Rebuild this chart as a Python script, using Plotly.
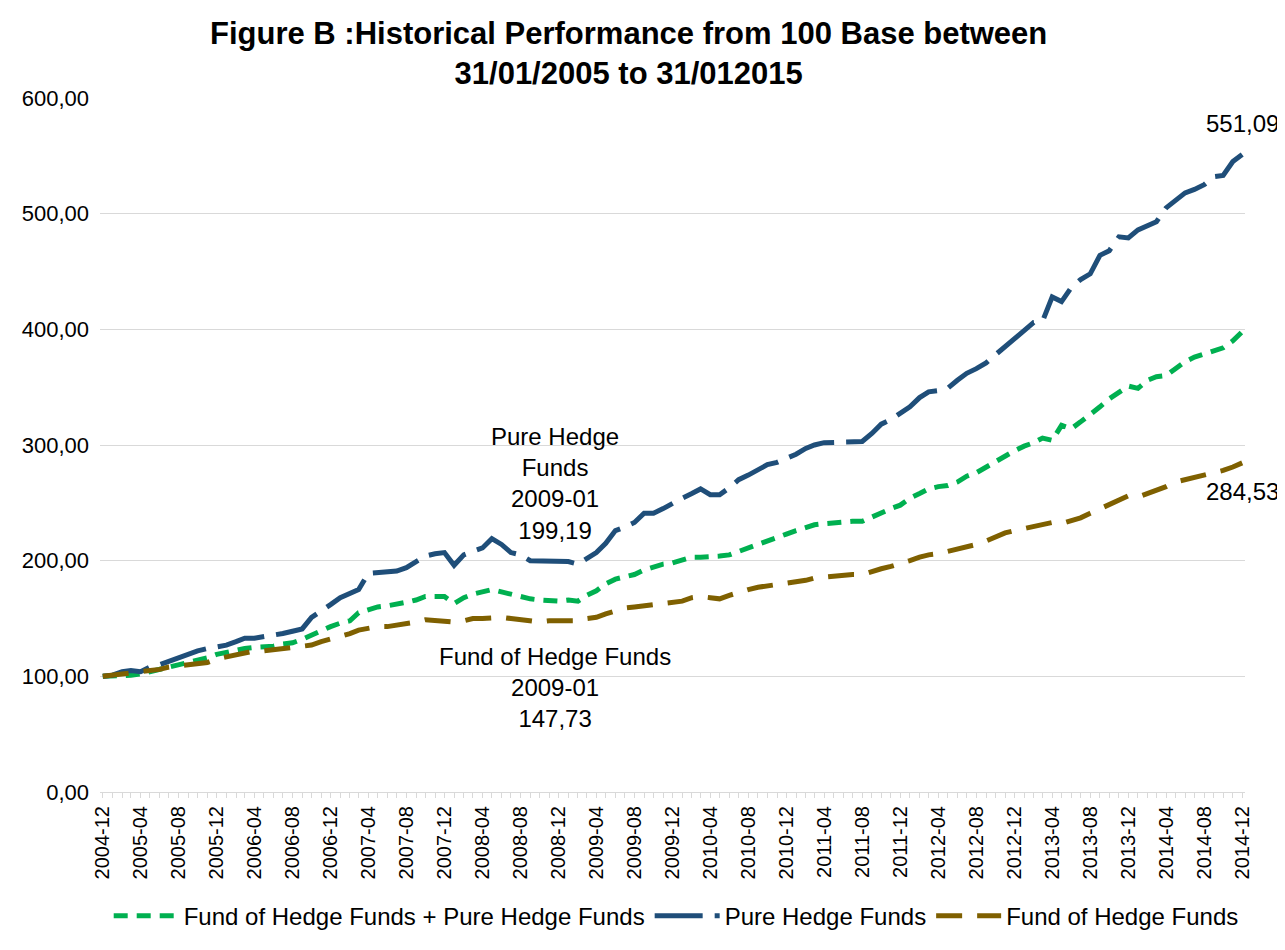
import pandas as pd
import plotly.graph_objects as go

months = pd.date_range("2004-12-01", periods=121, freq="MS")

pure_hedge = [
    100, 101, 104, 105, 104, 108, 110, 113, 115, 119, 122, 124, 125,
    127, 130, 133, 133, 134, 135, 137, 139, 141, 151, 156, 162,
    168, 172, 175, 189, 190, 190, 191, 194, 199, 204, 206, 207,
    196, 205, 208, 211, 219, 214, 207, 205, 200, 200, 200, 200,
    199.19, 197, 202, 207, 215, 226, 229, 233, 241, 241, 245, 250,
    254, 258, 262, 257, 257, 263, 270, 274, 278, 283, 285, 288,
    292, 297, 300, 302, 302, 302, 302, 303, 310, 318, 322, 327,
    333, 341, 346, 347, 349, 356, 362, 366, 371, 378, 385, 393,
    400, 406, 407, 428, 424, 436, 443, 448, 464, 468, 480, 479,
    486, 490, 493, 505, 512, 518, 521, 525, 532, 533, 545, 551.09,
]

combined = [
    100, 100, 101, 101, 102, 104, 105, 108, 110, 112, 114, 116, 119,
    121, 123, 124, 125, 125, 126, 128, 129, 132, 136, 140, 143,
    146, 148, 155, 158, 160, 161, 162, 164, 166, 169, 169, 169,
    163, 168, 171, 173, 175, 173, 171, 169, 167, 166, 165, 165,
    166, 165, 170, 174, 180, 184, 186, 188, 192, 195, 197, 198,
    200, 203, 203, 203, 204, 205, 208, 211, 215, 218, 221, 223,
    226, 229, 231, 232, 233, 233, 234, 234, 238, 242, 245, 248,
    254, 258, 262, 264, 265, 268, 273, 276, 281, 285, 290, 295,
    299, 302, 306, 304, 317, 314, 320, 326, 333, 340, 345, 351,
    349, 356, 359, 360, 366, 372, 376, 379, 382, 384, 390, 398,
]

fund_of_hedge = [
    100, 101, 102, 102, 103, 104, 106, 108, 109, 110, 110, 112, 115,
    117, 119, 120, 122, 122, 123, 124, 124, 125, 127, 130, 132,
    135, 137, 140, 142, 143, 143, 144, 145, 147, 149, 148, 148,
    147, 148, 150, 150, 151, 151, 150, 149, 147, 147, 148, 148,
    147.73, 148, 150, 151, 154, 157, 159, 160, 161, 163, 164, 164,
    165, 168, 169, 168, 167, 170, 173, 175, 177, 178, 180, 181,
    182, 183, 185, 186, 187, 187, 188, 188, 191, 193, 195, 197,
    200, 203, 205, 206, 208, 209, 212, 214, 217, 221, 224, 226,
    228, 230, 232, 233, 232, 234, 237, 241, 245, 249, 253, 256,
    255, 258, 261, 264, 268, 270, 272, 273, 275, 278, 281, 284.53,
]

font = "Liberation Sans, Arial, sans-serif"
label_font = dict(size=24, color="black", family=font)

fig = go.Figure()
fig.add_trace(go.Scatter(x=months, y=combined, mode="lines",
                         name="Fund of Hedge Funds + Pure Hedge Funds",
                         line=dict(color="#00B050", width=5, dash="14px,9px")))
fig.add_trace(go.Scatter(x=months, y=pure_hedge, mode="lines",
                         name="Pure Hedge Funds",
                         line=dict(color="#1F4E79", width=5, dash="48px,12px")))
fig.add_trace(go.Scatter(x=months, y=fund_of_hedge, mode="lines",
                         name="Fund of Hedge Funds",
                         line=dict(color="#7F6000", width=5, dash="26px,15px")))

# data labels
fig.add_annotation(x=months[49], y=pure_hedge[49], text="Pure Hedge<br>Funds<br>2009-01<br>199,19",
                   showarrow=False, xshift=-13, yshift=16, yanchor="bottom", font=label_font)
fig.add_annotation(x=months[49], y=fund_of_hedge[49], text="Fund of Hedge Funds<br>2009-01<br>147,73",
                   showarrow=False, xshift=-13, yshift=-20, yanchor="top", font=label_font)
fig.add_annotation(x=months[120], y=pure_hedge[120], text="551,09",
                   showarrow=False, yshift=16, yanchor="bottom", font=label_font)
fig.add_annotation(x=months[120], y=fund_of_hedge[120], text="284,53",
                   showarrow=False, yshift=-13, yanchor="top", font=label_font)

# outer chart border
fig.add_shape(type="rect", xref="paper", yref="paper",
              x0=-0.081, x1=1.03, y0=-0.25, y1=1.135,
              line=dict(color="#D9D9D9", width=1))

fig.update_layout(
    width=1285, height=950,
    separators=",.",
    paper_bgcolor="white", plot_bgcolor="white",
    margin=dict(l=92, r=48, t=90, b=166),
    font=dict(family=font, color="black", size=20),
    title=dict(text="<b>Figure B :Historical Performance from 100 Base between<br>31/01/2005 to 31/012015</b>",
               x=0.483, xanchor="center", y=0.962, yanchor="top",
               font=dict(size=31, color="black", family=font)),
    showlegend=True,
    legend=dict(orientation="h", xref="container", yref="container",
                x=0.52, xanchor="center", y=0.044, yanchor="middle",
                font=dict(size=24), itemwidth=65, tracegroupgap=0),
)
fig.update_xaxes(
    type="date", range=[months[0] - pd.Timedelta(days=9), months[120] + pd.Timedelta(days=9)],
    tick0="2004-12-01", dtick="M4", tickformat="%Y-%m", tickangle=-90,
    ticks="outside", ticklen=5, tickcolor="#D9D9D9",
    minor=dict(dtick="M1", ticks="outside", ticklen=5, tickcolor="#D9D9D9"),
    showgrid=False, showline=True, linecolor="#D9D9D9",
    tickfont=dict(size=20), automargin=False,
)
fig.update_yaxes(
    range=[0, 600], dtick=100, tickformat=".2f",
    showgrid=True, gridcolor="#D9D9D9", gridwidth=1,
    zeroline=False, showline=False, ticks="", ticklabelstandoff=10,
    tickfont=dict(size=22), automargin=False,
)

fig.write_html("out.html")
